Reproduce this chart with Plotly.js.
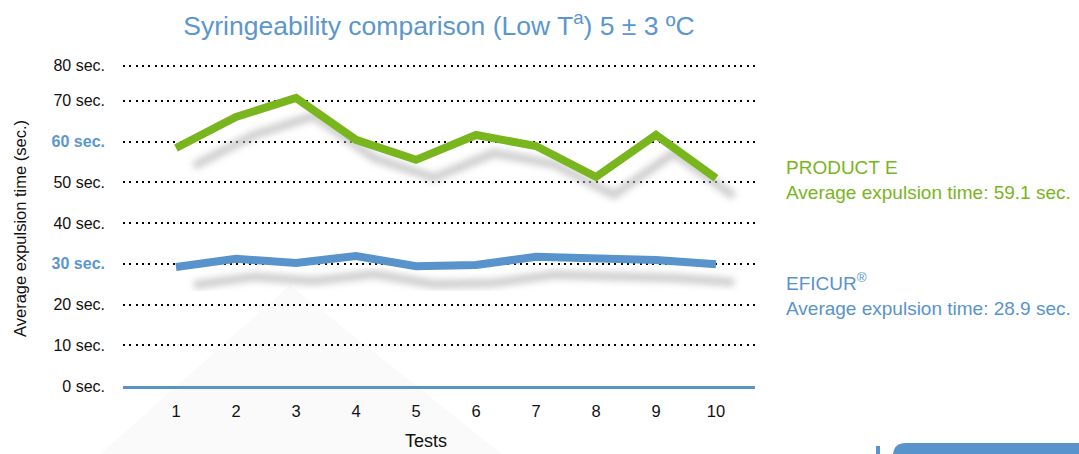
<!DOCTYPE html>
<html>
<head>
<meta charset="utf-8">
<script src="https://cdn.plot.ly/plotly-3.0.1.min.js"></script>
<style>html,body{margin:0;padding:0;background:#fff;}#chart{width:1079px;height:454px;}</style>
</head>
<body>
<div id="chart"></div>
<script>
// ---- data ----
const tests = [1, 2, 3, 4, 5, 6, 7, 8, 9, 10];
const productE = [58.4, 66.0, 70.7, 60.4, 55.5, 61.6, 58.9, 51.3, 61.6, 51.0];
const eficur = [29.2, 31.2, 30.2, 31.9, 29.4, 29.7, 31.7, 31.2, 30.9, 29.9];
const yTickVals = [0, 10, 20, 30, 40, 50, 60, 70, 78.6];
const yTickText = ['0 sec.', '10 sec.', '20 sec.', '<span style="color:#5b96cf;font-weight:bold">30 sec.</span>', '40 sec.', '50 sec.', '<span style="color:#5b96cf;font-weight:bold">60 sec.</span>', '70 sec.', '80 sec.'];
const titleText = 'Syringeability comparison (Low T<sup>a</sup>) 5 ± 3 ºC';
const productLabel = 'PRODUCT E<br>Average expulsion time: 59.1 sec.';
const eficurLabel = 'EFICUR<sup>®</sup><br>Average expulsion time: 28.9 sec.';

// ---- layout helpers ----
const L = 123, R = 324, T = 60, B = 68, W = 1079, H = 454;
const PW = W - L - R, PH = H - T - B;
const px = x => (x - L) / PW;
const py = y => (H - B - y) / PH;
const GREEN = '#79b51d', BLUE = '#5993cb';
const xr = [0.117, 10.65], yr = [0, 80];
const dx = 18 / (PW / (xr[1] - xr[0])), dy = 18 / (PH / (yr[1] - yr[0]));
const sans = '"Liberation Sans", Arial, Helvetica, sans-serif';

const traces = [
  {x: tests, y: productE, xaxis: 'x', yaxis: 'y', mode: 'lines', line: {color: '#bdbdbd', width: 8}, hoverinfo: 'skip', showlegend: false},
  {x: tests, y: eficur, xaxis: 'x', yaxis: 'y', mode: 'lines', line: {color: '#bdbdbd', width: 8}, hoverinfo: 'skip', showlegend: false},
  {x: tests, y: productE, xaxis: 'x2', yaxis: 'y2', mode: 'lines', name: 'PRODUCT E', line: {color: GREEN, width: 8}, showlegend: false},
  {x: tests, y: eficur, xaxis: 'x2', yaxis: 'y2', mode: 'lines', name: 'EFICUR®', line: {color: BLUE, width: 8}, showlegend: false}
];

const layout = {
  width: W, height: H,
  margin: {l: L, r: R, t: T, b: B, pad: 0},
  paper_bgcolor: '#fff', plot_bgcolor: 'rgba(0,0,0,0)',
  showlegend: false,
  title: {text: titleText, font: {family: sans, size: 26.5, color: '#5b96cf'}, x: 0.5, xref: 'paper', xanchor: 'center', y: 1 - 26 / H, yref: 'container', yanchor: 'middle'},
  xaxis: {visible: false, range: [xr[0] - dx, xr[1] - dx], fixedrange: true},
  yaxis: {visible: false, range: [yr[0] + dy, yr[1] + dy], fixedrange: true},
  xaxis2: {overlaying: 'x', range: xr, tickvals: tests, ticktext: tests.map(String), showgrid: false, zeroline: false,
    showline: true, linecolor: BLUE, linewidth: 3, ticks: '', ticklabelstandoff: 8,
    tickfont: {family: sans, size: 16.5, color: '#111'}},
  yaxis2: {overlaying: 'y', range: yr, tickvals: yTickVals, ticktext: yTickText, zeroline: false,
    showgrid: true, gridcolor: '#000', gridwidth: 2, griddash: '2px,4.3px', ticks: '', ticklabelstandoff: 17,
    tickfont: {family: sans, size: 16, color: '#111'}},
  annotations: [
    {text: 'Average expulsion time (sec.)', xref: 'paper', yref: 'paper', x: px(20), y: py(229), xanchor: 'center', yanchor: 'middle', textangle: -90, showarrow: false, font: {family: sans, size: 16.5, color: '#111'}},
    {text: 'Tests', xref: 'paper', yref: 'paper', x: px(426), y: py(441), xanchor: 'center', yanchor: 'middle', showarrow: false, font: {family: sans, size: 18, color: '#111'}},
    {text: productLabel, xref: 'paper', yref: 'paper', x: px(784), y: py(180), xanchor: 'left', yanchor: 'middle', align: 'left', showarrow: false, font: {family: sans, size: 19, color: GREEN}},
    {text: eficurLabel, xref: 'paper', yref: 'paper', x: px(784), y: py(294), xanchor: 'left', yanchor: 'middle', align: 'left', showarrow: false, font: {family: sans, size: 19, color: BLUE}}
  ],
  shapes: [
    {type: 'path', xref: 'paper', yref: 'paper', layer: 'below', line: {width: 0}, fillcolor: 'rgba(0,0,0,0.018)',
      path: `M ${px(100)} ${py(454)} L ${px(290)} ${py(285)} L ${px(502)} ${py(454)} Z`},
    {type: 'path', xref: 'paper', yref: 'paper', layer: 'above', line: {width: 0}, fillcolor: BLUE,
      path: `M ${px(893)} ${py(460)} L ${px(893)} ${py(456)} Q ${px(893)} ${py(443)} ${px(906)} ${py(443)} L ${px(1085)} ${py(443)} L ${px(1085)} ${py(460)} Z`},
    {type: 'rect', xref: 'paper', yref: 'paper', layer: 'above', line: {width: 0}, fillcolor: BLUE,
      x0: px(876), x1: px(880), y0: py(446), y1: py(460)}
  ]
};

const gd = document.getElementById('chart');
Plotly.newPlot(gd, traces, layout, {staticPlot: true, displayModeBar: false}).then(() => {
  const svg = gd.querySelector('svg.main-svg');
  const ns = 'http://www.w3.org/2000/svg';
  let defs = svg.querySelector('defs');
  const f = document.createElementNS(ns, 'filter');
  f.setAttribute('id', 'shadowblur');
  f.setAttribute('x', '-20%'); f.setAttribute('y', '-50%'); f.setAttribute('width', '140%'); f.setAttribute('height', '200%');
  const b = document.createElementNS(ns, 'feGaussianBlur');
  b.setAttribute('stdDeviation', '3.5');
  f.appendChild(b); defs.appendChild(f);
  const tr = gd.querySelectorAll('.scatterlayer .trace');
  [0, 1].forEach(i => { if (tr[i]) { tr[i].setAttribute('filter', 'url(#shadowblur)'); tr[i].style.opacity = 0.8; } });
});
</script>
</body>
</html>
